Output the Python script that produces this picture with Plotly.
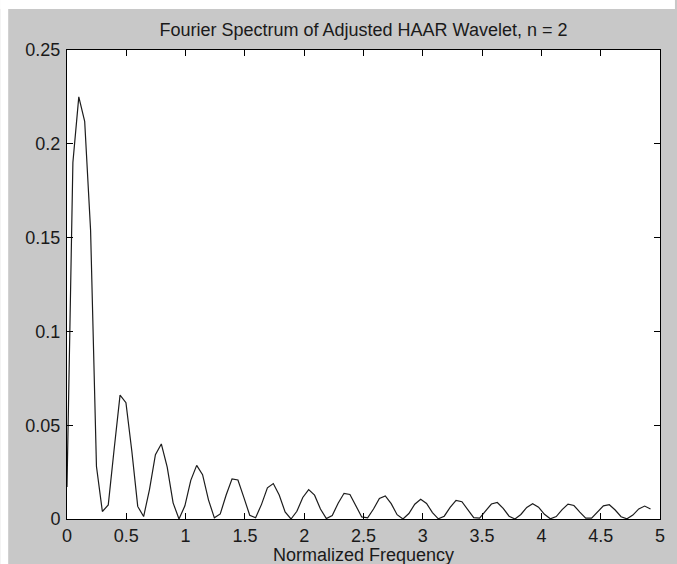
import plotly.graph_objects as go

# Normalized frequency sample points
frequency = [
    0.0000, 0.0497, 0.0994, 0.1491, 0.1988, 0.2485, 0.2982, 0.3479, 0.3976, 0.4473,
    0.4970, 0.5467, 0.5964, 0.6461, 0.6958, 0.7455, 0.7952, 0.8449, 0.8946, 0.9443,
    0.9940, 1.0437, 1.0934, 1.1431, 1.1928, 1.2425, 1.2922, 1.3419, 1.3916, 1.4413,
    1.4910, 1.5407, 1.5904, 1.6401, 1.6898, 1.7395, 1.7892, 1.8389, 1.8886, 1.9383,
    1.9880, 2.0377, 2.0874, 2.1371, 2.1868, 2.2365, 2.2862, 2.3359, 2.3856, 2.4353,
    2.4850, 2.5347, 2.5844, 2.6341, 2.6838, 2.7335, 2.7832, 2.8329, 2.8826, 2.9323,
    2.9820, 3.0317, 3.0814, 3.1311, 3.1808, 3.2305, 3.2802, 3.3299, 3.3796, 3.4293,
    3.4790, 3.5287, 3.5784, 3.6281, 3.6778, 3.7275, 3.7772, 3.8269, 3.8766, 3.9263,
    3.9760, 4.0257, 4.0754, 4.1251, 4.1748, 4.2245, 4.2742, 4.3239, 4.3736, 4.4233,
    4.4730, 4.5227, 4.5724, 4.6221, 4.6718, 4.7215, 4.7712, 4.8209, 4.8706, 4.9203,
]

# Spectrum magnitude at each frequency
magnitude = [
    0.0170, 0.1900, 0.2250, 0.2120, 0.1540, 0.0280, 0.0040, 0.0075, 0.0373, 0.0660,
    0.0620, 0.0361, 0.0067, 0.0013, 0.0158, 0.0343, 0.0400, 0.0277, 0.0086, 0.0000,
    0.0070, 0.0206, 0.0286, 0.0236, 0.0102, 0.0006, 0.0027, 0.0128, 0.0214, 0.0208,
    0.0115, 0.0020, 0.0007, 0.0078, 0.0166, 0.0189, 0.0128, 0.0038, 0.0000, 0.0041,
    0.0115, 0.0157, 0.0127, 0.0053, 0.0002, 0.0019, 0.0084, 0.0137, 0.0131, 0.0071,
    0.0011, 0.0006, 0.0053, 0.0109, 0.0123, 0.0082, 0.0023, 0.0000, 0.0029, 0.0079,
    0.0105, 0.0083, 0.0034, 0.0001, 0.0015, 0.0062, 0.0099, 0.0092, 0.0049, 0.0007,
    0.0005, 0.0040, 0.0080, 0.0088, 0.0057, 0.0015, 0.0000, 0.0024, 0.0062, 0.0081,
    0.0063, 0.0025, 0.0001, 0.0013, 0.0050, 0.0079, 0.0072, 0.0037, 0.0005, 0.0005,
    0.0036, 0.0070, 0.0076, 0.0048, 0.0012, 0.0001, 0.0021, 0.0054, 0.0069, 0.0053,
]

x_ticks = [0, 0.5, 1, 1.5, 2, 2.5, 3, 3.5, 4, 4.5, 5]
x_tick_labels = ["0", "0.5", "1", "1.5", "2", "2.5", "3", "3.5", "4", "4.5", "5"]
y_ticks = [0, 0.05, 0.1, 0.15, 0.2, 0.25]
y_tick_labels = ["0", "0.05", "0.1", "0.15", "0.2", "0.25"]

FONT = "Arial, Liberation Sans, Helvetica, sans-serif"
TEXT_COLOR = "#1a1a1a"
FIG_GREY = "#c8c8c8"

fig = go.Figure()
fig.add_trace(go.Scatter(
    x=frequency, y=magnitude, mode="lines",
    line=dict(color="#1c1c1c", width=1.2),
    hoverinfo="skip", showlegend=False,
))

axis_common = dict(
    showline=True, linecolor="#000000", linewidth=1, mirror="allticks",
    ticks="inside", ticklen=6, tickwidth=1, tickcolor="#000000",
    showgrid=False, zeroline=False,
    tickfont=dict(family=FONT, size=18, color=TEXT_COLOR),
)

fig.update_xaxes(range=[0, 5], tickmode="array", tickvals=x_ticks,
                 ticktext=x_tick_labels, ticklabelstandoff=0, **axis_common)
fig.update_yaxes(range=[0, 0.25], tickmode="array", tickvals=y_ticks,
                 ticktext=y_tick_labels, ticklabelstandoff=2, **axis_common)

W, H = 677, 564
L, R, T, B = 67, 15, 50, 45
pw, ph = W - L - R, H - T - B


def px_x(p):
    return (p - L) / pw


def px_y(p):
    return (H - B - p) / ph


# Window frame: white strip on top and left, grey figure area elsewhere
shapes = [
    dict(type="rect", xref="paper", yref="paper", layer="below",
         x0=px_x(0), x1=px_x(8), y0=px_y(H), y1=px_y(0),
         fillcolor="#ffffff", line=dict(width=0)),
    dict(type="rect", xref="paper", yref="paper", layer="below",
         x0=px_x(0), x1=px_x(W), y0=px_y(9), y1=px_y(0),
         fillcolor="#ffffff", line=dict(width=0)),
]

fig.update_layout(
    width=W, height=H,
    margin=dict(l=L, r=R, t=T, b=B),
    paper_bgcolor=FIG_GREY, plot_bgcolor="#ffffff",
    shapes=shapes,
    title=dict(text="Fourier Spectrum of Adjusted HAAR Wavelet, n = 2",
               x=0.5, xref="paper", y=1 - 30 / H, yref="container",
               xanchor="center", yanchor="middle",
               font=dict(family=FONT, size=18, color=TEXT_COLOR)),
    annotations=[dict(text="Normalized Frequency", xref="paper", yref="paper",
                      x=0.5, y=px_y(555), xanchor="center", yanchor="middle",
                      showarrow=False,
                      font=dict(family=FONT, size=18, color=TEXT_COLOR))],
)

fig.write_html("out.html")
